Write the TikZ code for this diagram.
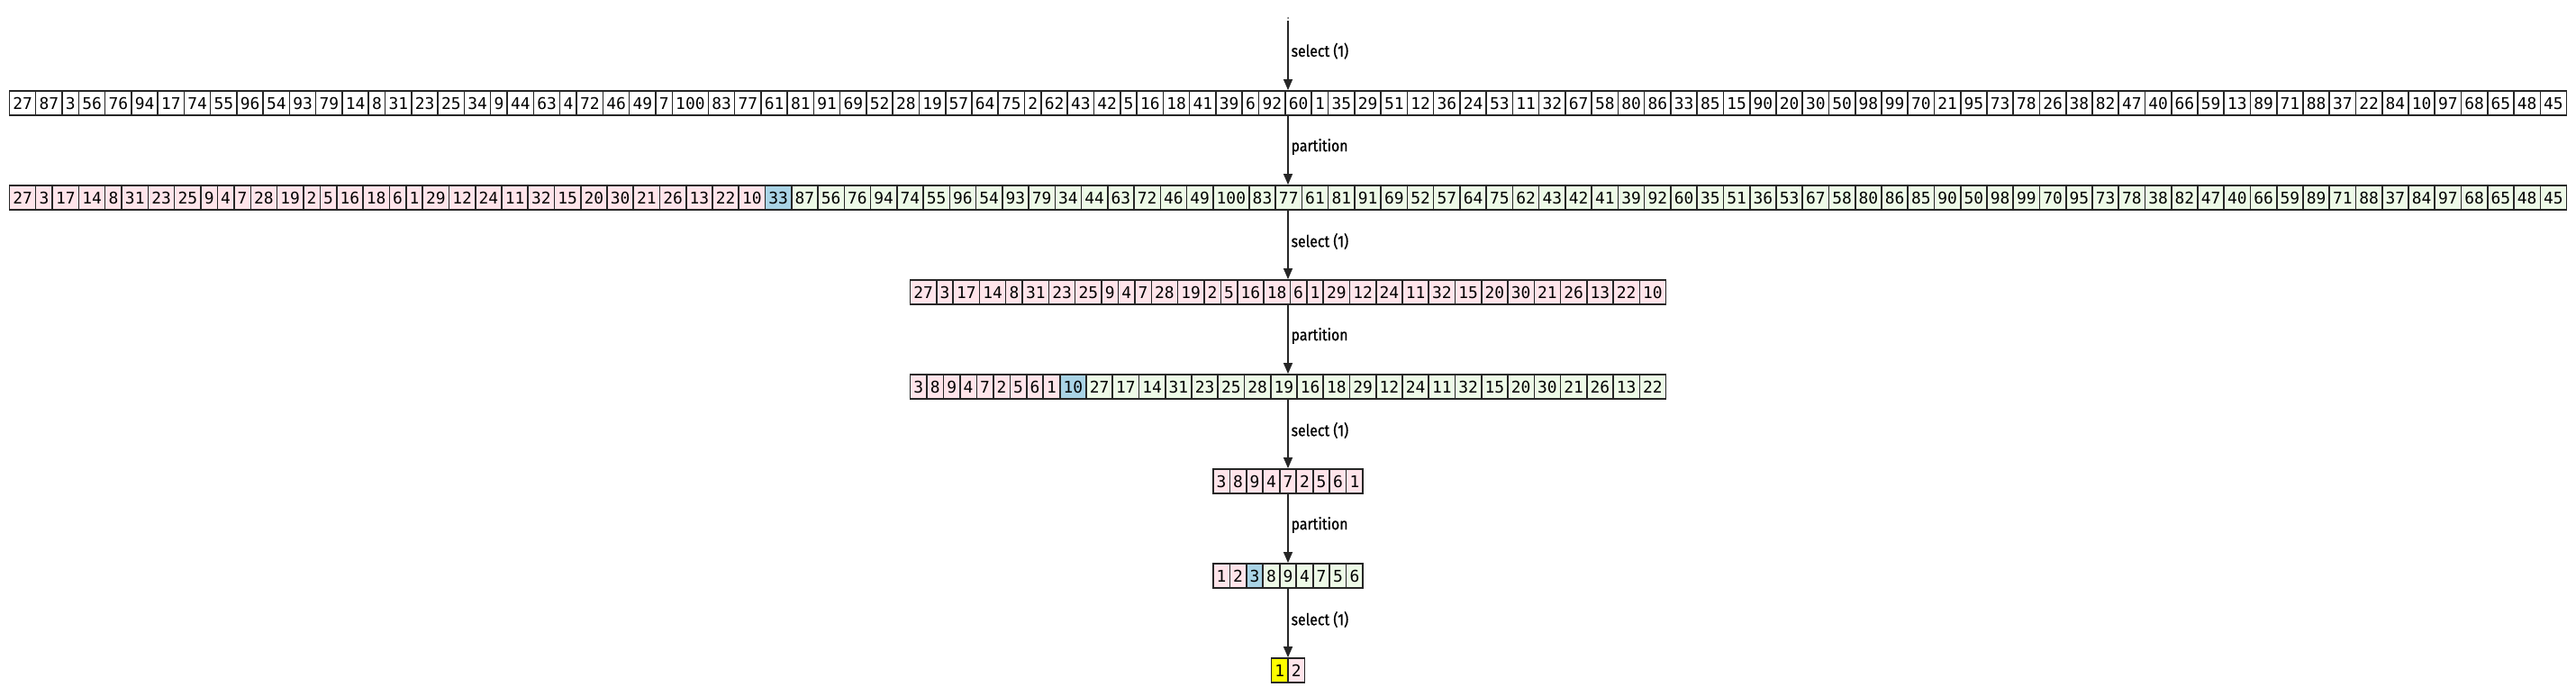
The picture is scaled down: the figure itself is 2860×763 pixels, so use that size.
\documentclass[tikz,border=0pt]{standalone}
\usepackage{fontspec}
\newfontfamily\cellfont{DejaVu Sans Mono}
\newfontfamily\labfont[FakeStretch=0.88,FakeBold=0.8]{Fira Sans}
\usetikzlibrary{arrows.meta,matrix}
\definecolor{lpink}{HTML}{FFE4EA}
\definecolor{lgreen}{HTML}{EDFAE7}
\definecolor{pivblue}{HTML}{A9D3E5}
\definecolor{ansyellow}{HTML}{FFFF00}
\tikzset{
  cell/.style={draw=black!85, line width=1.6pt, inner xsep=3.85pt, inner ysep=0pt,
    minimum height=27pt, outer sep=0pt, text=black,
    font=\cellfont\fontsize{17.9}{20}\selectfont},
  rowm/.style={matrix of nodes, column sep=-1.6pt, inner sep=0pt, outer sep=0pt,
    nodes={cell}},
  pk/.style={column #1/.style={nodes={fill=lpink}}},
  pv/.style={column #1/.style={nodes={fill=pivblue}}},
  conn/.style={line width=1.3pt, draw=black!85, -{Triangle[length=12pt,width=10pt]}},
  lab/.style={font=\labfont\fontsize{18}{20}\selectfont, anchor=west, xshift=2pt, yshift=4pt, inner sep=1pt},
  dotn/.style={circle, fill=black!70, inner sep=0pt, minimum size=2pt}
}
\begin{document}
\begin{tikzpicture}[x=1pt, y=-1pt]
\useasboundingbox (0,0) rectangle (2860,763);
\node[dotn] (start) at (1430,20) {};
\matrix (r1) [rowm, nodes={fill=white}] at (1430,114.5) {
27 & 87 & 3 & 56 & 76 & 94 & 17 & 74 & 55 & 96 & 54 & 93 & 79 & 14 & 8 & 31 & 23 & 25 & 34 & 9 & 44 & 63 & 4 & 72 & 46 & 49 & 7 & 100 & 83 & 77 & 61 & 81 & 91 & 69 & 52 & 28 & 19 & 57 & 64 & 75 & 2 & 62 & 43 & 42 & 5 & 16 & 18 & 41 & 39 & 6 & 92 & 60 & 1 & 35 & 29 & 51 & 12 & 36 & 24 & 53 & 11 & 32 & 67 & 58 & 80 & 86 & 33 & 85 & 15 & 90 & 20 & 30 & 50 & 98 & 99 & 70 & 21 & 95 & 73 & 78 & 26 & 38 & 82 & 47 & 40 & 66 & 59 & 13 & 89 & 71 & 88 & 37 & 22 & 84 & 10 & 97 & 68 & 65 & 48 & 45 \\
};
\matrix (r2) [rowm, nodes={fill=lgreen}, pk/.list={1,...,32}, pv=33] at (1430,219.5) {
27 & 3 & 17 & 14 & 8 & 31 & 23 & 25 & 9 & 4 & 7 & 28 & 19 & 2 & 5 & 16 & 18 & 6 & 1 & 29 & 12 & 24 & 11 & 32 & 15 & 20 & 30 & 21 & 26 & 13 & 22 & 10 & 33 & 87 & 56 & 76 & 94 & 74 & 55 & 96 & 54 & 93 & 79 & 34 & 44 & 63 & 72 & 46 & 49 & 100 & 83 & 77 & 61 & 81 & 91 & 69 & 52 & 57 & 64 & 75 & 62 & 43 & 42 & 41 & 39 & 92 & 60 & 35 & 51 & 36 & 53 & 67 & 58 & 80 & 86 & 85 & 90 & 50 & 98 & 99 & 70 & 95 & 73 & 78 & 38 & 82 & 47 & 40 & 66 & 59 & 89 & 71 & 88 & 37 & 84 & 97 & 68 & 65 & 48 & 45 \\
};
\matrix (r3) [rowm, nodes={fill=lpink}] at (1430,324.5) {
27 & 3 & 17 & 14 & 8 & 31 & 23 & 25 & 9 & 4 & 7 & 28 & 19 & 2 & 5 & 16 & 18 & 6 & 1 & 29 & 12 & 24 & 11 & 32 & 15 & 20 & 30 & 21 & 26 & 13 & 22 & 10 \\
};
\matrix (r4) [rowm, nodes={fill=lgreen}, pk/.list={1,...,9}, pv=10] at (1430,429.5) {
3 & 8 & 9 & 4 & 7 & 2 & 5 & 6 & 1 & 10 & 27 & 17 & 14 & 31 & 23 & 25 & 28 & 19 & 16 & 18 & 29 & 12 & 24 & 11 & 32 & 15 & 20 & 30 & 21 & 26 & 13 & 22 \\
};
\matrix (r5) [rowm, nodes={fill=lpink}] at (1430,534.5) {
3 & 8 & 9 & 4 & 7 & 2 & 5 & 6 & 1 \\
};
\matrix (r6) [rowm, nodes={fill=lgreen}, pk/.list={1,2}, pv=3] at (1430,639.5) {
1 & 2 & 3 & 8 & 9 & 4 & 7 & 5 & 6 \\
};
\matrix (r7) [rowm, nodes={fill=lpink}, column 1/.style={nodes={fill=ansyellow}}] at (1430,744.5) {
1 & 2 \\
};
\draw[conn, shorten <=2pt] (start) -- node[lab] (l1) {select (1)} (r1.north);
\draw[conn] (r1.south) -- node[lab] (l2) {partition} (r2.north);
\draw[conn] (r2.south) -- node[lab] (l3) {select (1)} (r3.north);
\draw[conn] (r3.south) -- node[lab] (l4) {partition} (r4.north);
\draw[conn] (r4.south) -- node[lab] (l5) {select (1)} (r5.north);
\draw[conn] (r5.south) -- node[lab] (l6) {partition} (r6.north);
\draw[conn] (r6.south) -- node[lab] (l7) {select (1)} (r7.north);
\end{tikzpicture}
\end{document}
